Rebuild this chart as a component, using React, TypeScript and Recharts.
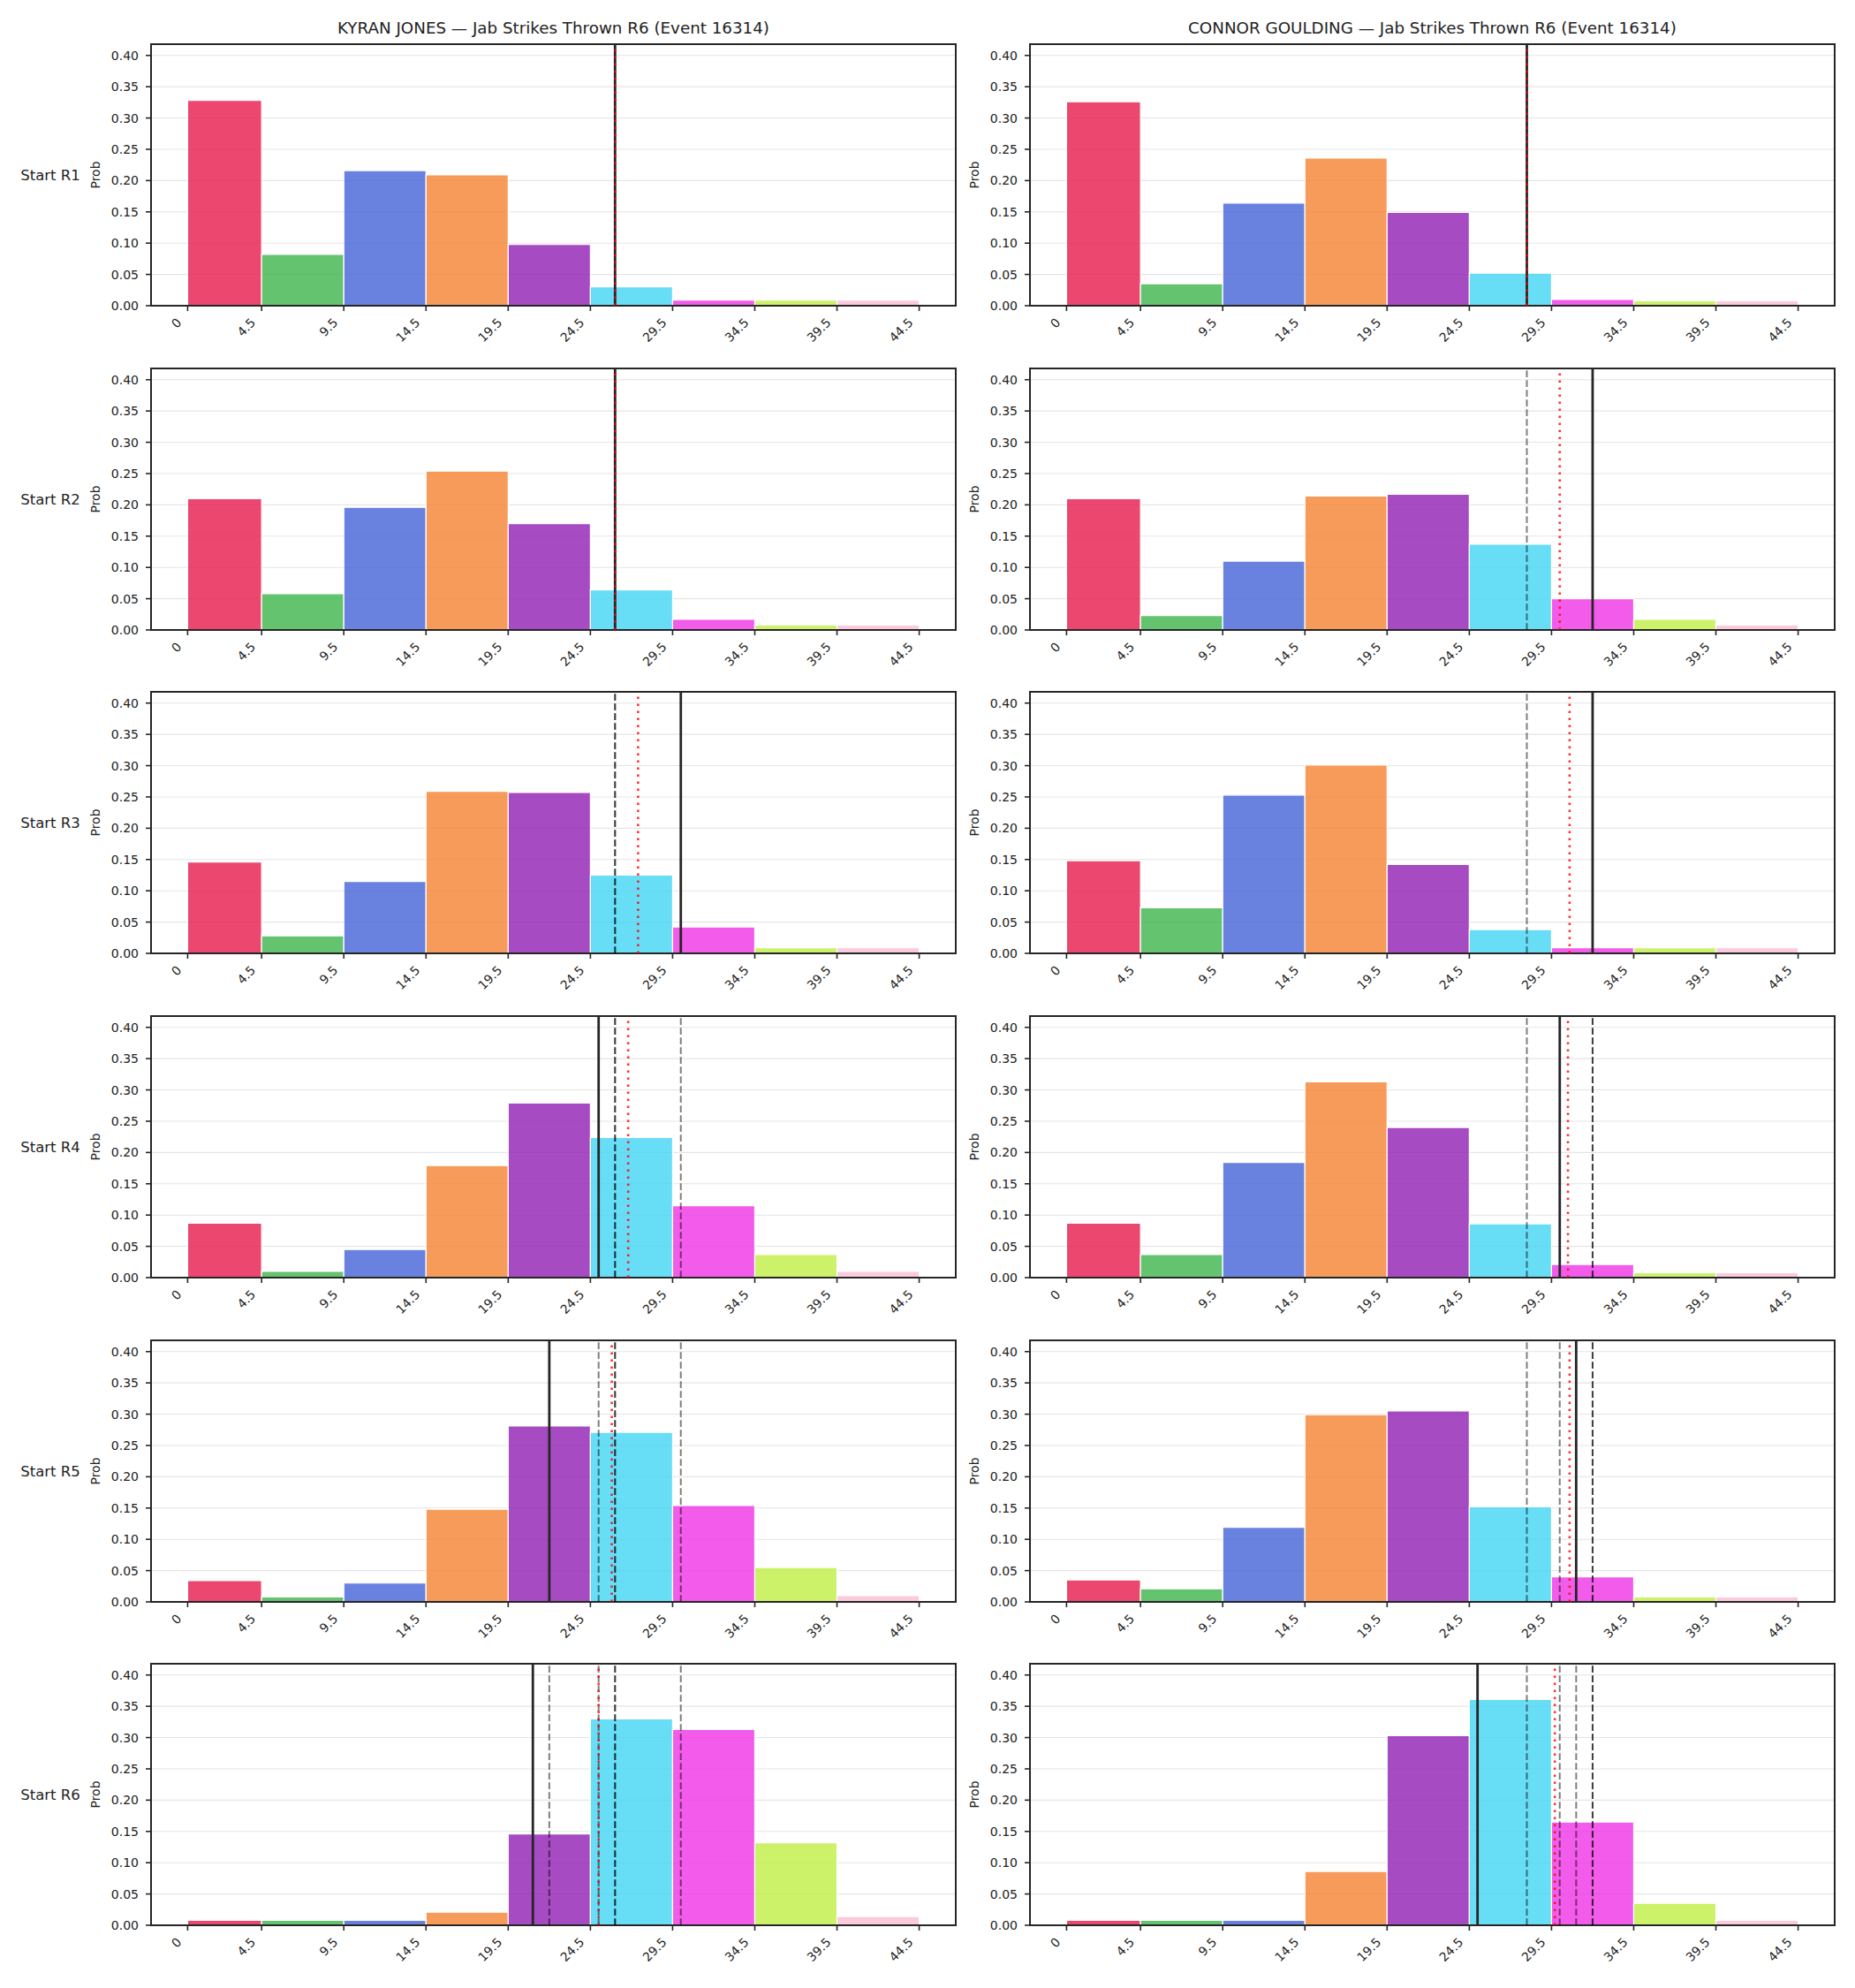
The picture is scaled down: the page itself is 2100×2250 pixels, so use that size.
import React from 'react';
import {
  ComposedChart,
  XAxis,
  YAxis,
  CartesianGrid,
  ReferenceArea,
  ReferenceLine,
} from 'recharts';

// Histogram bin edges (jab strikes thrown) and their tick labels
const BIN_EDGES = [0, 4.5, 9.5, 14.5, 19.5, 24.5, 29.5, 34.5, 39.5, 44.5];
const X_TICK_LABELS = ['0', '4.5', '9.5', '14.5', '19.5', '24.5', '29.5', '34.5', '39.5', '44.5'];
const Y_TICKS = [0, 0.05, 0.1, 0.15, 0.2, 0.25, 0.3, 0.35, 0.4];
const BIN_COLORS = ['#e6194b', '#3cb44b', '#4363d8', '#f58231', '#911eb4', '#42d4f4', '#f032e6', '#bfef45', '#fabed4'];
const ROUNDS = ['R1', 'R2', 'R3', 'R4', 'R5', 'R6'];

const FIGHTERS = ['KYRAN JONES', 'CONNOR GOULDING'];

// Probability per bin, one row per starting round
const KYRAN_PROBS = [
  [0.328, 0.082, 0.216, 0.209, 0.098, 0.030, 0.009, 0.009, 0.009],
  [0.210, 0.058, 0.196, 0.254, 0.170, 0.064, 0.017, 0.008, 0.008],
  [0.146, 0.028, 0.115, 0.259, 0.257, 0.125, 0.042, 0.009, 0.009],
  [0.087, 0.010, 0.045, 0.179, 0.279, 0.224, 0.115, 0.037, 0.010],
  [0.034, 0.008, 0.030, 0.148, 0.281, 0.271, 0.154, 0.055, 0.010],
  [0.008, 0.008, 0.008, 0.021, 0.146, 0.330, 0.313, 0.132, 0.014],
];
const CONNOR_PROBS = [
  [0.326, 0.035, 0.164, 0.236, 0.149, 0.052, 0.010, 0.008, 0.008],
  [0.210, 0.023, 0.110, 0.214, 0.217, 0.137, 0.050, 0.017, 0.008],
  [0.148, 0.073, 0.253, 0.301, 0.142, 0.038, 0.009, 0.009, 0.009],
  [0.087, 0.037, 0.184, 0.313, 0.240, 0.086, 0.021, 0.008, 0.008],
  [0.035, 0.021, 0.119, 0.299, 0.305, 0.152, 0.040, 0.008, 0.008],
  [0.008, 0.008, 0.008, 0.086, 0.303, 0.361, 0.165, 0.035, 0.008],
];

// Line at each starting round (solid), earlier rounds' lines drawn dashed
const KYRAN_LINES = [26, 26, 30, 25, 22, 21];
const CONNOR_LINES = [28, 32, 32, 30, 31, 25];
// Model marker (red dotted)
const KYRAN_MARKERS = [26.0, 26.0, 27.4, 26.8, 25.8, 25.0];
const CONNOR_MARKERS = [28.0, 30.0, 30.6, 30.5, 30.6, 29.7];

const X_DOMAIN: [number, number] = [-2.225, 46.725];
const Y_DOMAIN: [number, number] = [0, 0.418];

const FONT = '"DejaVu Sans", sans-serif';
const INK = '#222222';

const PLOT_TOPS = [50, 417, 783, 1150, 1517, 1883];
const PLOT_H = 296;
const TOP_PAD = 45;
const X_AXIS_H = 80;
const Y_AXIS_W = 60;
const CHART_H = TOP_PAD + PLOT_H + X_AXIS_H;

const COLUMNS = [
  { left: 0, width: 1090, margin: { top: TOP_PAD, right: 8, bottom: 0, left: 111 }, plotLeft: 171, plotRight: 1082 },
  { left: 1090, width: 1010, margin: { top: TOP_PAD, right: 23, bottom: 0, left: 16 }, plotLeft: 1166, plotRight: 2077 },
];

const XTick = (props: any) => {
  const { x, y, payload } = props;
  const idx = BIN_EDGES.indexOf(payload.value);
  const ax = x - 6;
  const ay = y + 12;
  return (
    <text
      x={ax}
      y={ay}
      transform={`rotate(-45, ${ax}, ${ay})`}
      textAnchor="end"
      fontSize={14}
      fill={INK}
      fontFamily={FONT}
    >
      {idx >= 0 ? X_TICK_LABELS[idx] : String(payload.value)}
    </text>
  );
};

type PanelProps = {
  probs: number[];
  line: number;
  previous: number[];
  marker: number;
  width: number;
  margin: { top: number; right: number; bottom: number; left: number };
};

function Panel({ probs, line, previous, marker, width, margin }: PanelProps) {
  const data = BIN_EDGES.map((x) => ({ x }));
  return (
    <ComposedChart width={width} height={CHART_H} data={data} margin={margin}>
      <CartesianGrid vertical={false} stroke="#e5e5e5" strokeWidth={1.1} />
      <XAxis
        type="number"
        dataKey="x"
        domain={X_DOMAIN}
        ticks={BIN_EDGES}
        interval={0}
        height={X_AXIS_H}
        tickSize={6}
        axisLine={false}
        tickLine={{ stroke: '#262626', strokeWidth: 1.6 }}
        tick={<XTick />}
        allowDataOverflow
      />
      <YAxis
        type="number"
        domain={Y_DOMAIN}
        ticks={Y_TICKS}
        interval={0}
        width={Y_AXIS_W}
        tickSize={6}
        tickMargin={8}
        axisLine={false}
        tickLine={{ stroke: '#262626', strokeWidth: 1.6 }}
        tick={{ fontSize: 14, fill: INK, fontFamily: FONT }}
        tickFormatter={(v: number) => v.toFixed(2)}
        allowDataOverflow
      />
      {probs.map((p, i) => (
        <ReferenceArea
          key={`bin-${i}`}
          x1={BIN_EDGES[i]}
          x2={BIN_EDGES[i + 1]}
          y1={0}
          y2={p}
          fill={BIN_COLORS[i]}
          fillOpacity={0.8}
          stroke="#ffffff"
          strokeWidth={1.2}
          ifOverflow="visible"
        />
      ))}
      {previous.map((v, i) => (
        <ReferenceLine
          key={`prev-${i}`}
          x={v}
          stroke="#000000"
          strokeOpacity={0.5}
          strokeWidth={2}
          strokeDasharray="7.7 3.3"
        />
      ))}
      <ReferenceLine x={line} stroke="#262626" strokeWidth={2.8} />
      <ReferenceLine
        x={marker}
        stroke="#ff0000"
        strokeOpacity={0.8}
        strokeWidth={2.6}
        strokeDasharray="2.6 5.4"
      />
      <ReferenceArea
        x1={X_DOMAIN[0]}
        x2={X_DOMAIN[1]}
        y1={Y_DOMAIN[0]}
        y2={Y_DOMAIN[1]}
        fill="none"
        fillOpacity={0}
        stroke="#262626"
        strokeWidth={2}
        ifOverflow="visible"
      />
    </ComposedChart>
  );
}

export default function App() {
  const probsByFighter = [KYRAN_PROBS, CONNOR_PROBS];
  const linesByFighter = [KYRAN_LINES, CONNOR_LINES];
  const markersByFighter = [KYRAN_MARKERS, CONNOR_MARKERS];

  return (
    <div
      style={{
        position: 'absolute',
        left: 0,
        top: 0,
        width: 2100,
        height: 2250,
        background: '#ffffff',
        fontFamily: FONT,
        overflow: 'hidden',
      }}
    >
      <svg width={2100} height={2250} style={{ position: 'absolute', left: 0, top: 0 }}>
        {FIGHTERS.map((name, c) => (
          <text
            key={`title-${c}`}
            x={(COLUMNS[c].plotLeft + COLUMNS[c].plotRight) / 2}
            y={38}
            textAnchor="middle"
            fontSize={18.3}
            fill={INK}
            fontFamily={FONT}
          >
            {`${name} — Jab Strikes Thrown R6 (Event 16314)`}
          </text>
        ))}
        {ROUNDS.map((r, i) => {
          const mid = PLOT_TOPS[i] + PLOT_H / 2;
          return (
            <g key={`row-${r}`}>
              <text x={57} y={mid + 6} textAnchor="middle" fontSize={16.5} fill={INK} fontFamily={FONT}>
                {`Start ${r}`}
              </text>
              {COLUMNS.map((col, c) => {
                const px = col.plotLeft - 58;
                return (
                  <text
                    key={`prob-${c}`}
                    x={px}
                    y={mid}
                    transform={`rotate(-90, ${px}, ${mid})`}
                    textAnchor="middle"
                    fontSize={14}
                    fill={INK}
                    fontFamily={FONT}
                  >
                    Prob
                  </text>
                );
              })}
            </g>
          );
        })}
      </svg>
      {ROUNDS.map((r, i) =>
        COLUMNS.map((col, c) => {
          const lines = linesByFighter[c];
          return (
            <div
              key={`panel-${r}-${c}`}
              style={{ position: 'absolute', left: col.left, top: PLOT_TOPS[i] - TOP_PAD }}
            >
              <Panel
                probs={probsByFighter[c][i]}
                line={lines[i]}
                previous={lines.slice(0, i)}
                marker={markersByFighter[c][i]}
                width={col.width}
                margin={col.margin}
              />
            </div>
          );
        })
      )}
    </div>
  );
}
